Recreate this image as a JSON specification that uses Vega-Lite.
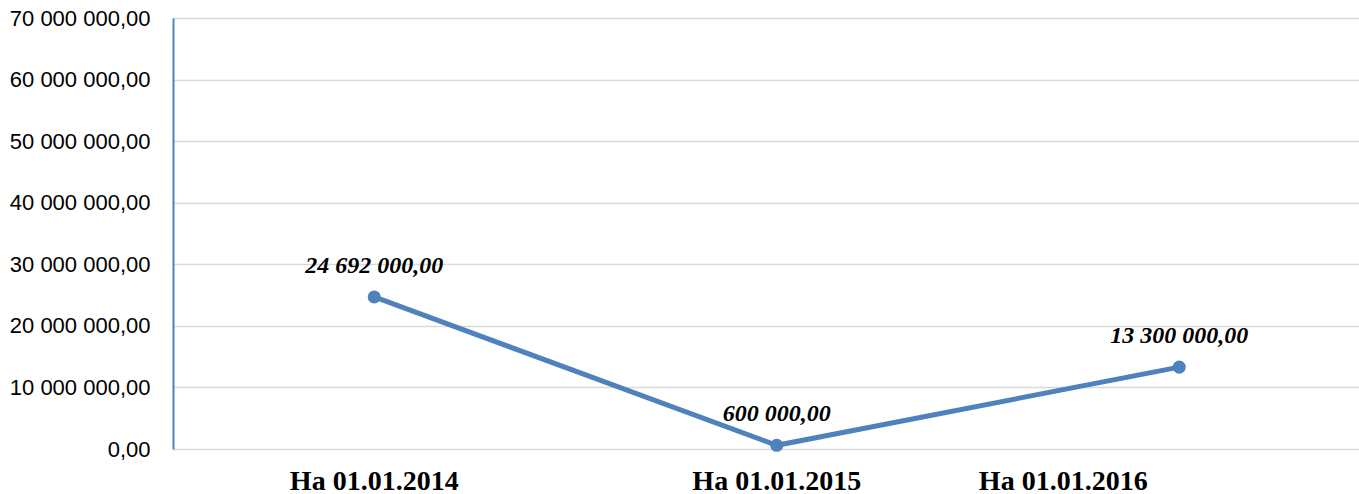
{
  "$schema": "https://vega.github.io/schema/vega-lite/v6.json",
  "width": 1186,
  "height": 431,
  "autosize": "none",
  "padding": {"left": 173, "top": 18, "right": 0, "bottom": 45},
  "background": "white",
  "config": {
    "view": {"stroke": null},
    "locale": {"number": {"decimal": ",", "thousands": " ", "grouping": [3], "currency": ["", ""]}}
  },
  "data": {
    "values": [
      {"date": "На 01.01.2014", "value": 24692000},
      {"date": "На 01.01.2015", "value": 600000},
      {"date": "На 01.01.2016", "value": 13300000}
    ]
  },
  "encoding": {
    "x": {
      "field": "date",
      "type": "ordinal",
      "sort": null,
      "scale": {"type": "band", "range": [0, 1207.5], "paddingInner": 0, "paddingOuter": 0},
      "axis": {
        "title": null,
        "grid": false,
        "domain": false,
        "ticks": false,
        "labelAngle": 0,
        "labelFont": "Liberation Serif",
        "labelFontSize": 28,
        "labelFontWeight": "bold",
        "labelColor": "#000000",
        "labelPadding": 18,
        "labelOffset": {"condition": {"test": "datum.value == 'На 01.01.2016'", "value": -116}, "value": 0}
      }
    },
    "y": {
      "field": "value",
      "type": "quantitative",
      "scale": {"domain": [0, 70000000], "nice": false, "zero": true},
      "axis": {
        "title": null,
        "values": [0, 10000000, 20000000, 30000000, 40000000, 50000000, 60000000, 70000000],
        "format": ",.2f",
        "grid": true,
        "gridColor": "#D9D9D9",
        "gridWidth": 1.5,
        "domain": true,
        "domainColor": "#4F81BD",
        "domainWidth": 2,
        "ticks": false,
        "labelPadding": 23,
        "labelFont": "Liberation Sans",
        "labelFontSize": 22,
        "labelColor": "#000000"
      }
    }
  },
  "layer": [
    {"mark": {"type": "line", "color": "#4F81BD", "strokeWidth": 5}},
    {"mark": {"type": "point", "filled": true, "size": 170, "opacity": 1, "color": "#4F81BD"}},
    {
      "mark": {"type": "text", "font": "Liberation Serif", "fontSize": 24, "fontWeight": "bold", "fontStyle": "italic", "color": "#000000", "baseline": "alphabetic", "align": "center", "dy": -24},
      "encoding": {"text": {"field": "value", "type": "quantitative", "format": ",.2f"}}
    }
  ]
}
